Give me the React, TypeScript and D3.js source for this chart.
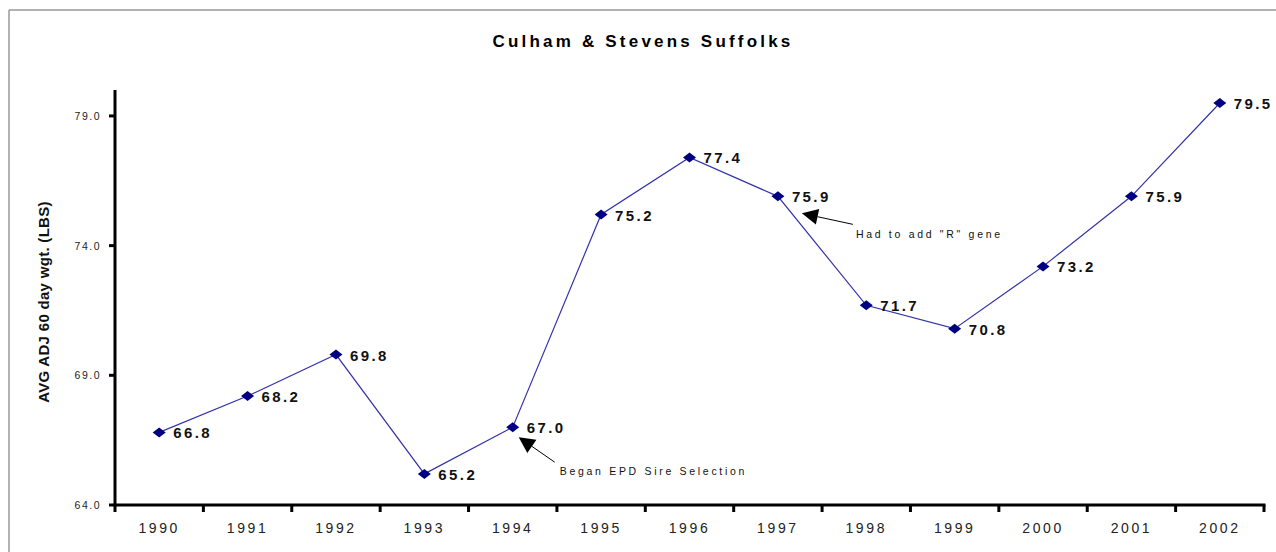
import React from "react";
import * as d3 from "d3";

const years = ["1990","1991","1992","1993","1994","1995","1996","1997","1998","1999","2000","2001","2002"];
const weights = [66.8, 68.2, 69.8, 65.2, 67.0, 75.2, 77.4, 75.9, 71.7, 70.8, 73.2, 75.9, 79.5];
const yTicks = [64, 69, 74, 79];
const annotations = [
  { year: "1994", value: 67.0, text: "Began EPD Sire Selection" },
  { year: "1997", value: 75.9, text: "Had to add \"R\" gene" },
];

export default function App() {
  const W = 1276, H = 552;
  const left = 115, right = 1264, top = 90, bottom = 505;
  const x = d3.scaleBand<string>().domain(years).range([left, right]);
  const y = d3.scaleLinear().domain([64, 80]).range([bottom, top]);
  const cx = (yr: string) => (x(yr) as number) + x.bandwidth() / 2;
  const line = d3.line<number>().x((_, i) => cx(years[i])).y((d) => y(d));
  const font = "'Liberation Sans', Arial, sans-serif";
  const diamond = (px: number, py: number) =>
    `M${px - 6.5},${py} L${px},${py - 5} L${px + 6.5},${py} L${px},${py + 5} Z`;

  const annoGeom = [
    { head: [6, 10], tail: [42, 35], tx: 47, ty: 48 },
    { head: [24, 17], tail: [75, 28], tx: 78, ty: 42 },
  ];

  return (
    <svg width={W} height={H} style={{ position: "absolute", left: 0, top: 0 }}>
      <rect x={0} y={0} width={W} height={H} fill="#fff" />
      <line x1={9} y1={10} x2={W} y2={10} stroke="#999" strokeWidth={1.5} />
      <line x1={9} y1={10} x2={9} y2={H} stroke="#999" strokeWidth={1.5} />
      <text x={643} y={47} textAnchor="middle" fontFamily={font} fontWeight="bold" fontSize={17} letterSpacing={3.2}>
        Culham &amp; Stevens Suffolks
      </text>
      <text
        transform={`translate(49,302) rotate(-90)`}
        textAnchor="middle"
        fontFamily={font}
        fontWeight="bold"
        fontSize={15}
        letterSpacing={0.3}
        fill="#111"
      >
        AVG ADJ 60 day wgt. (LBS)
      </text>
      <line x1={left} y1={top} x2={left} y2={bottom + 1.5} stroke="#000" strokeWidth={3} />
      <line x1={left - 1.5} y1={bottom} x2={right + 1.5} y2={bottom} stroke="#000" strokeWidth={3} />
      {yTicks.map((t) => (
        <g key={t}>
          <line x1={left - 6} y1={y(t)} x2={left} y2={y(t)} stroke="#000" strokeWidth={3} />
          <text x={left - 14} y={y(t) + 4} textAnchor="end" fontFamily={font} fontSize={10.5} letterSpacing={1.5} fill="#222">
            {t.toFixed(1)}
          </text>
        </g>
      ))}
      {years.map((yr, i) => (
        <line key={"t" + yr} x1={left + i * x.bandwidth()} y1={bottom} x2={left + i * x.bandwidth()} y2={bottom + 7} stroke="#000" strokeWidth={3} />
      ))}
      <line x1={right} y1={bottom} x2={right} y2={bottom + 7} stroke="#000" strokeWidth={3} />
      {years.map((yr) => (
        <text key={"l" + yr} x={cx(yr)} y={bottom + 28} textAnchor="middle" fontFamily={font} fontSize={14} letterSpacing={2.6} fill="#222">
          {yr}
        </text>
      ))}
      <path d={line(weights) || ""} fill="none" stroke="#3333aa" strokeWidth={1.2} />
      {weights.map((v, i) => (
        <g key={"p" + i}>
          <path d={diamond(cx(years[i]), y(v))} fill="#000080" />
          <text x={cx(years[i]) + 14} y={y(v) + 6} fontFamily={font} fontWeight="bold" fontSize={15} letterSpacing={2.4} fill="#111">
            {v.toFixed(1)}
          </text>
        </g>
      ))}
      {annotations.map((a, k) => {
        const px = cx(a.year), py = y(a.value);
        const g = annoGeom[k];
        const hx = px + g.head[0], hy = py + g.head[1];
        const tx = px + g.tail[0], ty = py + g.tail[1];
        const ang = Math.atan2(hy - ty, hx - tx);
        const L = 16, Wd = 8;
        const bx = hx - L * Math.cos(ang), by = hy - L * Math.sin(ang);
        const nx = -Math.sin(ang) * Wd, ny = Math.cos(ang) * Wd;
        return (
          <g key={"a" + k}>
            <line x1={tx} y1={ty} x2={bx} y2={by} stroke="#000" strokeWidth={1} />
            <path d={`M${hx},${hy} L${bx + nx},${by + ny} L${bx - nx},${by - ny} Z`} fill="#000" />
            <text x={px + g.tx} y={py + g.ty} fontFamily={font} fontSize={10.5} letterSpacing={2.7} fill="#111">
              {a.text}
            </text>
          </g>
        );
      })}
    </svg>
  );
}
